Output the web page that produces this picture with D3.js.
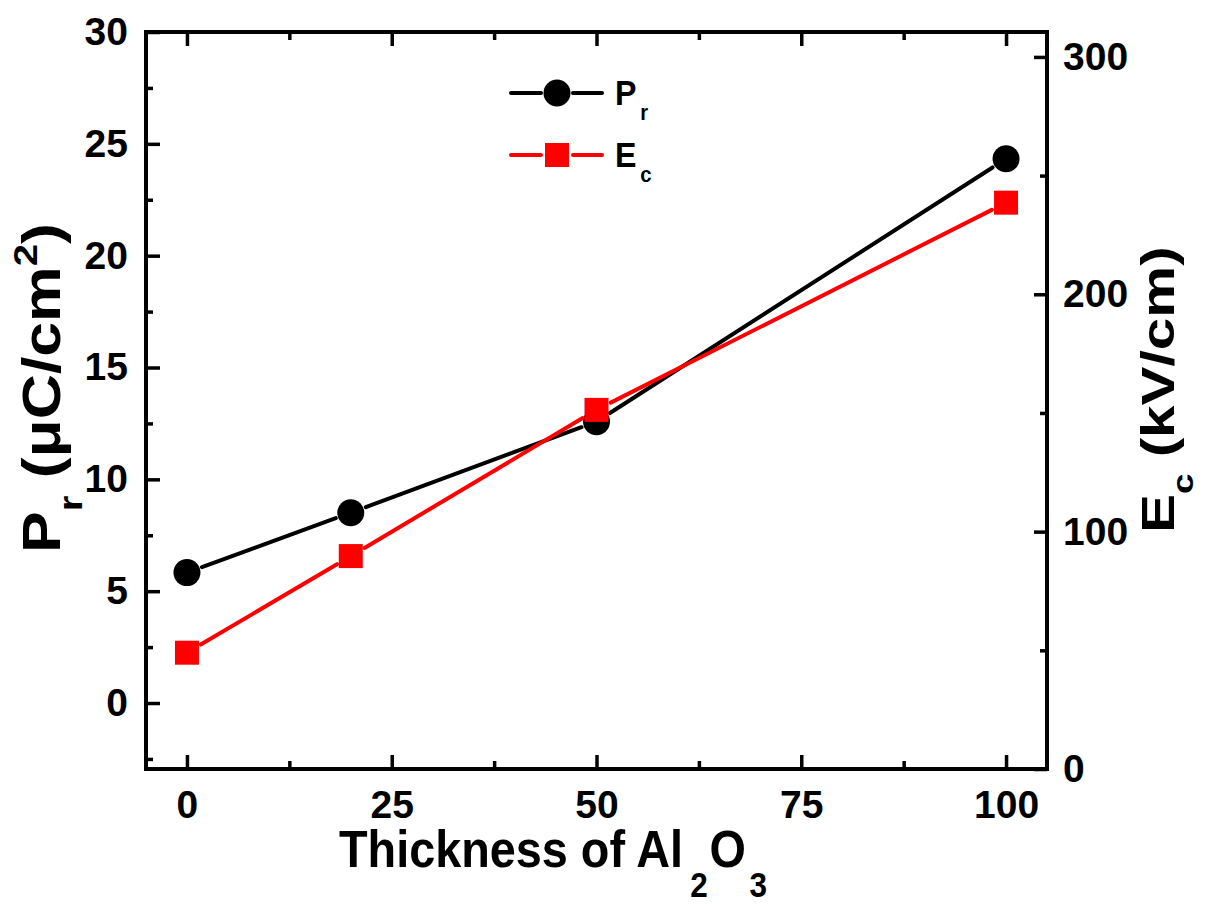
<!DOCTYPE html>
<html>
<head>
<meta charset="utf-8">
<script src="https://cdn.jsdelivr.net/npm/d3@7"></script>
<style>
  html, body { margin: 0; padding: 0; background: #fff; }
  svg { display: block; }
  text { font-family: "Liberation Sans", Arial, sans-serif; font-weight: bold; fill: #000; }
</style>
</head>
<body>
<svg id="chart" width="1210" height="916"></svg>
<script>
// ---- data ----
const thickness = [0, 20, 50, 100];
const prValues = [5.83, 8.51, 12.58, 24.33];     // µC/cm²
const ecValues = [49.0, 89.7, 151.3, 238.6];     // kV/cm
const xTicks = [0, 25, 50, 75, 100];
const xMinorTicks = [12.5, 37.5, 62.5, 87.5];
const yLeftTicks = [0, 5, 10, 15, 20, 25, 30];
const yLeftMinorTicks = [-2.5, 2.5, 7.5, 12.5, 17.5, 22.5, 27.5];
const yRightTicks = [0, 100, 200, 300];
const yRightMinorTicks = [50, 150, 250];
const seriesNames = ["P", "E"];
const seriesSubs = ["r", "c"];

// ---- layout ----
const L = 146, R = 1047, T = 32, B = 769;
const svg = d3.select("#chart");

const x = d3.scaleLinear().domain([-5, 105]).range([L, R]);
const yL = d3.scaleLinear().domain([-2.95, 30]).range([B, T]);
const yR = d3.scaleLinear().domain([0, 310.5]).range([B, T]);

const tickW = 3.5;
const fontTick = 39;

function axisGroup(axis, tr) {
  const g = svg.append("g").attr("transform", tr).call(axis);
  g.select(".domain").remove();
  g.selectAll(".tick line").attr("stroke", "#000").attr("stroke-width", tickW);
  g.selectAll(".tick text").style("font-size", fontTick + "px")
    .style("font-family", '"Liberation Sans", Arial, sans-serif').style("font-weight", "bold").attr("fill", "#000");
  return g;
}
// bottom
axisGroup(d3.axisBottom(x).tickValues(xTicks).tickSize(-14).tickPadding(21).tickFormat(d3.format("d")), `translate(0,${B})`);
axisGroup(d3.axisBottom(x).tickValues(xMinorTicks).tickSize(-8).tickFormat(""), `translate(0,${B})`);
// top (mirror, no labels)
axisGroup(d3.axisTop(x).tickValues(xTicks).tickSize(-14).tickFormat(""), `translate(0,${T})`);
axisGroup(d3.axisTop(x).tickValues(xMinorTicks).tickSize(-8).tickFormat(""), `translate(0,${T})`);
// left
axisGroup(d3.axisLeft(yL).tickValues(yLeftTicks).tickSize(-14).tickPadding(18).tickFormat(d3.format("d")), `translate(${L},0)`);
axisGroup(d3.axisLeft(yL).tickValues(yLeftMinorTicks).tickSize(-7).tickFormat(""), `translate(${L},0)`);
// right
axisGroup(d3.axisRight(yR).tickValues(yRightTicks).tickSize(-13).tickPadding(16).tickFormat(d3.format("d")), `translate(${R},0)`);
axisGroup(d3.axisRight(yR).tickValues(yRightMinorTicks).tickSize(-7).tickFormat(""), `translate(${R},0)`);

// frame
svg.append("rect").attr("x", L).attr("y", T).attr("width", R - L).attr("height", B - T)
  .attr("fill", "none").attr("stroke", "#000").attr("stroke-width", 4);

// ---- series ----
const series = [
  { vals: prValues, scale: yL, color: "#000", shape: "circle" },
  { vals: ecValues, scale: yR, color: "#f00", shape: "square" }
];
const gap = 16;
series.forEach(s => {
  const pts = thickness.map((t, i) => [x(t), s.scale(s.vals[i])]);
  const g = svg.append("g");
  for (let i = 0; i < pts.length - 1; i++) {
    const [x1, y1] = pts[i], [x2, y2] = pts[i + 1];
    const dx = x2 - x1, dy = y2 - y1, len = Math.hypot(dx, dy);
    const ux = dx / len, uy = dy / len;
    g.append("line")
      .attr("x1", x1 + ux * gap).attr("y1", y1 + uy * gap)
      .attr("x2", x2 - ux * gap).attr("y2", y2 - uy * gap)
      .attr("stroke", s.color).attr("stroke-width", 4).attr("stroke-linecap", "round");
  }
  pts.forEach(p => {
    if (s.shape === "circle") {
      g.append("circle").attr("cx", p[0]).attr("cy", p[1]).attr("r", 13.5).attr("fill", s.color);
    } else {
      g.append("rect").attr("x", p[0] - 12).attr("y", p[1] - 12).attr("width", 24).attr("height", 24).attr("fill", s.color);
    }
  });
});

// ---- legend ----
const legY = [93, 155];
series.forEach((s, i) => {
  const g = svg.append("g");
  const cy = legY[i];
  g.append("line").attr("x1", 511).attr("x2", 541).attr("y1", cy).attr("y2", cy)
    .attr("stroke", s.color).attr("stroke-width", 4).attr("stroke-linecap", "round");
  g.append("line").attr("x1", 573).attr("x2", 602).attr("y1", cy).attr("y2", cy)
    .attr("stroke", s.color).attr("stroke-width", 4).attr("stroke-linecap", "round");
  if (s.shape === "circle") {
    g.append("circle").attr("cx", 557).attr("cy", cy).attr("r", 13.5).attr("fill", s.color);
  } else {
    g.append("rect").attr("x", 545).attr("y", cy - 12).attr("width", 24).attr("height", 24).attr("fill", s.color);
  }
  const t = g.append("text").attr("transform", `translate(615,${cy + 12}) scale(0.92,1)`).style("font-size", "35px");
  t.append("tspan").text(seriesNames[i]);
  t.append("tspan").attr("dy", 15).attr("dx", 4).style("font-size", "22px").text(seriesSubs[i]);
});

// ---- axis titles ----
const xt = svg.append("text").attr("transform", "translate(339,867) scale(0.9,1)").style("font-size", "52px");
xt.append("tspan").text("Thickness of Al");
xt.append("tspan").attr("dy", 30).attr("dx", 8).style("font-size", "35px").text("2");
xt.append("tspan").attr("dy", -30).attr("dx", 2).text("O");
xt.append("tspan").attr("dy", 30).attr("dx", 4).style("font-size", "35px").text("3");

const ylt = svg.append("text").attr("transform", "translate(60,553) rotate(-90) scale(1.18,1)").style("font-size", "53px");
ylt.append("tspan").text("P");
ylt.append("tspan").attr("dy", 22).style("font-size", "34px").text("r");
ylt.append("tspan").attr("dy", -22).text(" (\u03BCC/cm");
ylt.append("tspan").attr("dy", -23).style("font-size", "34px").text("2");
ylt.append("tspan").attr("dy", 23).text(")");

const yrt = svg.append("text").attr("transform", "translate(1174,533) rotate(-90) scale(1.27,1)").style("font-size", "46px");
yrt.append("tspan").text("E");
yrt.append("tspan").attr("dy", 19).style("font-size", "29px").text("c");
yrt.append("tspan").attr("dy", -19).text(" (kV/cm)");
</script>
</body>
</html>
